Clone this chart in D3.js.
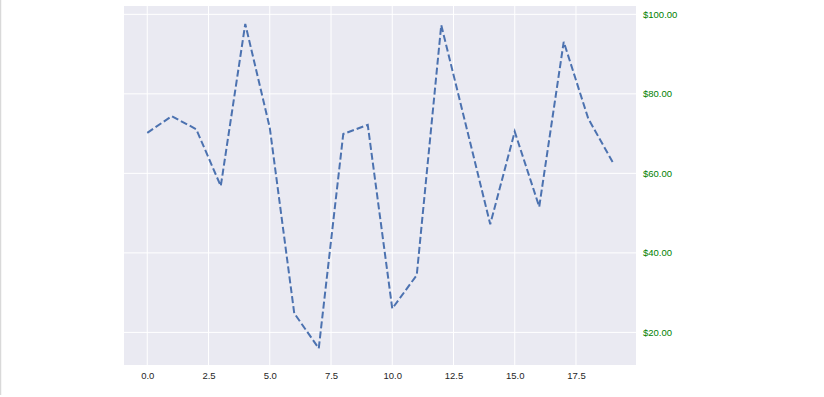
<!DOCTYPE html>
<html lang="en">
  <head>
    <meta charset="utf-8">
    <title>Dashed price line</title>
    <style>
      body { margin: 0; background: #fff; }
      svg { display: block; }
      .tick text { font-family: "Liberation Sans", Arial, sans-serif; }
    </style>
    <script src="https://d3js.org/d3.v7.min.js"></script>
  </head>
  <body>
    <script type="text/javascript">
      // data
      var xs = d3.range(20);
      var prices = [70.2, 74.4, 71.1, 56.8, 97.6, 71.5, 24.8, 16.0, 69.9, 72.2,
                    26.0, 34.4, 97.3, 72.3, 47.2, 70.5, 51.6, 93.1, 73.8, 62.8];
      var xTicks = [0, 2.5, 5, 7.5, 10, 12.5, 15, 17.5];
      var yTicks = [20, 40, 60, 80, 100];

      (function () {
        var w = 824, h = 397;
        var plotLeft = 124, plotRight = 636, plotTop = 6, plotBottom = 365;

        var svg = d3.select("body").append("svg")
                    .attr("width", w)
                    .attr("height", h);

        // thin grey border on the far left
        svg.append("line")
           .attr("x1", 0.5).attr("x2", 0.5)
           .attr("y1", 0).attr("y2", 395)
           .style("stroke", "#d9d9d9")
           .style("stroke-width", 1.5);

        var x = d3.scaleLinear().domain([-0.95, 19.95]).range([plotLeft, plotRight]);
        var y = d3.scaleLinear().domain([11.8, 102.1]).range([plotBottom, plotTop]);

        // plot background
        svg.append("rect")
           .attr("x", plotLeft).attr("y", plotTop)
           .attr("width", plotRight - plotLeft).attr("height", plotBottom - plotTop)
           .style("fill", "#eaeaf2");

        // grid
        svg.append("g").selectAll("line")
           .data(xTicks).enter().append("line")
           .attr("x1", function (d) { return x(d); })
           .attr("x2", function (d) { return x(d); })
           .attr("y1", plotTop).attr("y2", plotBottom)
           .style("stroke", "#fff").style("stroke-width", 1);
        svg.append("g").selectAll("line")
           .data(yTicks).enter().append("line")
           .attr("x1", plotLeft).attr("x2", plotRight)
           .attr("y1", function (d) { return y(d); })
           .attr("y2", function (d) { return y(d); })
           .style("stroke", "#fff").style("stroke-width", 1);

        // x axis
        var xAxis = svg.append("g")
           .attr("transform", "translate(0," + plotBottom + ")")
           .call(d3.axisBottom(x).tickValues(xTicks).tickSize(0).tickPadding(7)
                   .tickFormat(d3.format(".1f")));
        xAxis.select(".domain").remove();
        xAxis.selectAll("text")
             .style("font-size", "9.5px")
             .style("fill", "#262626");

        // y axis on the right, green dollar labels
        var yAxis = svg.append("g")
           .attr("transform", "translate(" + plotRight + ",0)")
           .call(d3.axisRight(y).tickValues(yTicks).tickSize(0).tickPadding(7)
                   .tickFormat(function (d) { return "$" + d3.format(".2f")(d); }));
        yAxis.select(".domain").remove();
        yAxis.selectAll("text")
             .style("font-size", "9.5px")
             .style("fill", "green");

        // the dashed line
        var line = d3.line()
                     .x(function (d, i) { return x(xs[i]); })
                     .y(function (d) { return y(d); });
        svg.append("path")
           .datum(prices)
           .attr("d", line)
           .style("fill", "none")
           .style("stroke", "#4c72b0")
           .style("stroke-width", 2)
           .style("stroke-dasharray", "7,3");
      })();
    </script>
  </body>
</html>
